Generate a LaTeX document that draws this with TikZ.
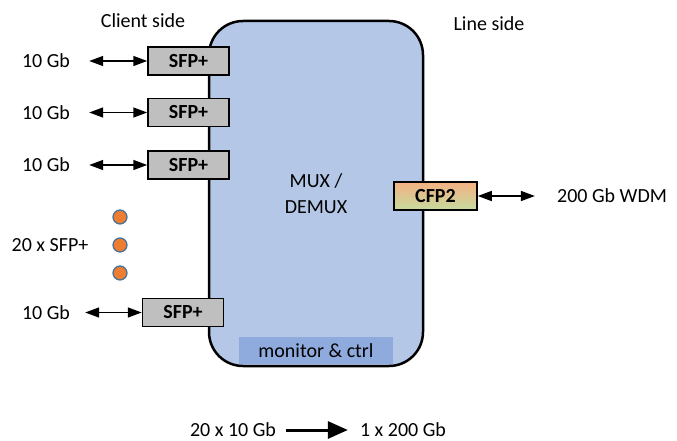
\documentclass[tikz,border=0pt]{standalone}
\usepackage{fontspec}
\setmainfont{Carlito}
\usetikzlibrary{arrows.meta}

\definecolor{muxblue}{HTML}{B4C7E7}
\definecolor{monblue}{HTML}{8FAADC}
\definecolor{sfpgrey}{HTML}{BFBFBF}
\definecolor{dotorange}{HTML}{ED7D31}
\definecolor{dotblue}{HTML}{41719C}
\definecolor{cfptop}{HTML}{F4B183}
\definecolor{cfpbot}{HTML}{C5DB9E}

\tikzset{
  lbl/.style={inner sep=0pt,font=\fontsize{20}{26}\selectfont},
  sfp/.style={draw,line width=1.5pt,fill=sfpgrey,minimum width=81pt,minimum height=28pt,
    inner sep=0pt,font=\fontsize{20}{24}\selectfont\bfseries},
  cfp/.style={sfp,top color=cfptop,bottom color=cfpbot,minimum width=83pt},
  link/.style={line width=1.5pt,{Triangle[length=14pt,width=10pt]}-{Triangle[length=14pt,width=10pt]}},
  dot/.style={circle,draw=dotblue,line width=1.2pt,fill=dotorange,minimum size=14pt,inner sep=0pt}
}

\begin{document}
\begin{tikzpicture}[x=1pt,y=-1pt]
  \useasboundingbox (0,0) rectangle (677,441);

  % main block
  \node[draw,line width=2.5pt,fill=muxblue,rounded corners=34pt,minimum width=214pt,
    minimum height=345pt,align=center,lbl] (mux) at (316,193.5) {MUX /\\DEMUX};
  \node[fill=monblue,minimum width=154pt,minimum height=27pt,lbl] (mon) at (316,350.5) {monitor \& ctrl};

  \node[lbl] (client) at (143,21) {Client side};
  \node[lbl] (line) at (489,24) {Line side};

  % client ports
  \node[sfp] (s1) at (188.5,61) {SFP+};
  \node[sfp] (s2) at (188.5,112.5) {SFP+};
  \node[sfp] (s3) at (188.5,165) {SFP+};
  \node[sfp] (s4) at (183,312.5) {SFP+};
  \node[lbl] (g1) at (46,61) {10 Gb};
  \node[lbl] (g2) at (46,112.5) {10 Gb};
  \node[lbl] (g3) at (46,165) {10 Gb};
  \node[lbl] (g4) at (46,312.5) {10 Gb};
  \draw[link] ([xshift=19pt]g1.east) -- (s1.west);
  \draw[link] ([xshift=19pt]g2.east) -- (s2.west);
  \draw[link] ([xshift=19pt]g3.east) -- (s3.west);
  \draw[link] ([xshift=15pt]g4.east) -- (s4.west);

  \node[dot] (d1) at (120,217) {};
  \node[dot] (d2) at (120,245) {};
  \node[dot] (d3) at (120,273) {};
  \node[lbl] (many) at (50,245) {20 x SFP+};

  % line port
  \node[cfp] (cfp) at (435.5,196) {CFP2};
  \node[lbl] (wdm) at (612,196) {200 Gb WDM};
  \draw[link] (cfp.east) -- ([xshift=-22pt]wdm.west);

  % summary
  \node[lbl] (from) at (233,430) {20 x 10 Gb};
  \node[lbl] (to) at (403,430) {1 x 200 Gb};
  \draw[line width=3pt,-{Triangle[length=20pt,width=17pt]}] ([xshift=10pt]from.east) -- ([xshift=-12pt]to.west);
\end{tikzpicture}
\end{document}
